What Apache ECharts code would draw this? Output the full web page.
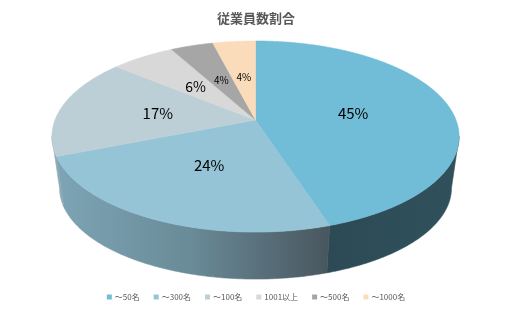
<!DOCTYPE html>
<html><head><meta charset="utf-8">
<script src="https://cdn.jsdelivr.net/npm/echarts@6/dist/echarts.min.js"></script>
<style>html,body{margin:0;padding:0;background:#fff}#c{width:512px;height:313px}</style>
</head><body><div id="c"></div>
<script>
const categories = ['～50名','～300名','～100名','1001以上','～500名','～1000名'];
const values = [45, 24, 17, 6, 4, 4];
const labels = ['45%','24%','17%','6%','4%','4%'];
const topColors = ['#71bcd6','#95c4d6','#bdcfd6','#d8d8d8','#a6a6a6','#fadcba'];
const sideStops = [
  [[0,'#2c4a55'],[1,'#30515c']],
  [[0,'#7da5b5'],[0.5,'#698a97'],[1,'#48565e']],
  [[0,'#8fa9b3'],[1,'#8fa9b3']],
  [[0,'#a8a8a8'],[1,'#a8a8a8']],
  [[0,'#7a7a7a'],[1,'#7a7a7a']],
  [[0,'#c9b092'],[1,'#c9b092']]
];
const labelSizes = [15,15,15,14,10,10];

// projection parameters (perspective ellipse)
const CX = 255.5, CY = 120, A = 200.5, B = 92.7, K = 0.173;
const CYB = 172.3, AB = 193, BB = 88.3;
const VIS0 = Math.acos(-K), VIS1 = 2*Math.PI - Math.acos(-K);

function topPt(th, r) {
  const x = r*Math.sin(th), z = -r*Math.cos(th);
  const s = 1/(1 - K*z);
  return [CX + A*x*s, CY + B*z*s];
}
function botPt(th) {
  const x = Math.sin(th), z = -Math.cos(th);
  const s = 1/(1 - K*z);
  return [CX + AB*x*s, CYB + BB*z*s];
}
const total = values.reduce((a,b)=>a+b,0);

function makeRender(i) {
  return function(params, api) {
    let cum = 0;
    for (let j = 0; j < i; j++) cum += values[j];
    const t0 = cum/total*2*Math.PI;
    const t1 = (cum + api.value(0))/total*2*Math.PI;
    const children = [];
    const a = Math.max(t0, VIS0), b = Math.min(t1, VIS1);
    if (b > a) {
      const n = Math.max(4, Math.ceil((b-a)/0.01));
      const pts = [];
      for (let k = 0; k <= n; k++) pts.push(topPt(a + (b-a)*k/n, 1));
      for (let k = n; k >= 0; k--) pts.push(botPt(a + (b-a)*k/n));
      const xs = pts.map(p=>p[0]);
      const x1 = Math.max(...xs), x0 = Math.min(...xs);
      const stops = sideStops[i].map(s=>({offset:s[0], color:s[1]}));
      const grad = {type:'linear', x:x0, y:0, x2:x1, y2:0, global:true, colorStops: stops};
      children.push({type:'polygon', shape:{points:pts}, style:{fill:grad, stroke:grad, lineWidth:0.6}, silent:true});
    }
    const n2 = Math.max(4, Math.ceil((t1-t0)/0.01));
    const tp = [[CX, CY]];
    for (let k = 0; k <= n2; k++) tp.push(topPt(t0 + (t1-t0)*k/n2, 1));
    children.push({type:'polygon', shape:{points:tp}, style:{fill:topColors[i], stroke:topColors[i], lineWidth:0.6}, silent:true, z2:2});
    const lp = topPt((t0+t1)/2, 0.5);
    children.push({type:'text', x:lp[0], y:lp[1], silent:true, z2:10,
      style:{text:labels[i], fill:'#000', fontSize:labelSizes[i], fontFamily:'Noto Sans CJK JP', align:'center', verticalAlign:'middle'}});
    return {type:'group', children};
  };
}

const series = categories.map((name, i) => ({
  type:'custom', name, coordinateSystem:'none', renderItem: makeRender(i),
  itemStyle:{color: topColors[i]}, data:[[values[i]]], animation:false
}));

const chart = echarts.init(document.getElementById('c'));
chart.setOption({
  animation:false,
  title:{text:'従業員数割合', left:'center', top:7,
    textStyle:{fontSize:13, fontWeight:'bold', color:'#595959', fontFamily:'Noto Sans CJK JP'}},
  legend:{data:categories, bottom:7, left:'center', icon:'rect', itemWidth:5, itemHeight:5, itemGap:14,
    textStyle:{fontSize:8, color:'#595959', fontFamily:'Noto Sans CJK JP', padding:[0,0,0,-2]}},
  series
});
</script></body></html>
